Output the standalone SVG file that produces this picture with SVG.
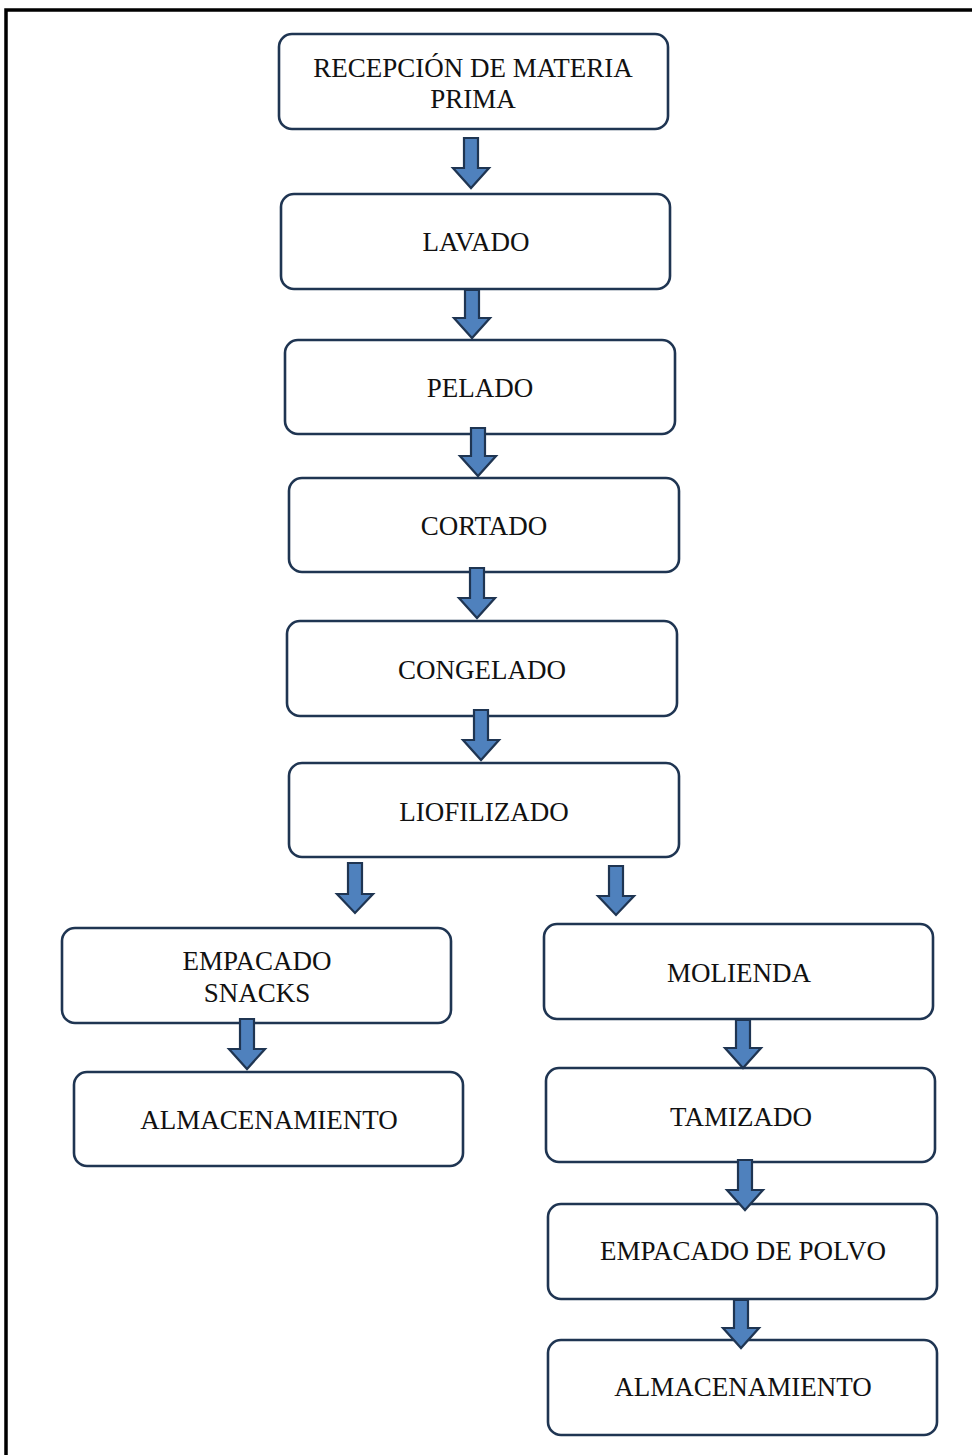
<svg xmlns="http://www.w3.org/2000/svg" width="972" height="1455" viewBox="0 0 972 1455">
  <style>
    .box { fill: #ffffff; stroke: #1f3552; stroke-width: 2.6; }
    .lbl { font-family: "Liberation Serif", "Times New Roman", serif; font-size: 27px; fill: #111111; text-anchor: middle; }
    .arrow { fill: #4f81bd; stroke: #1f3552; stroke-width: 2.2; stroke-linejoin: miter; }
    .frame { stroke: #000000; stroke-width: 3.5; fill: none; }
  </style>
  <rect width="972" height="1455" fill="#ffffff"/>

  <!-- page frame (top and left edges) -->
  <path class="frame" d="M6,1455 V10 H972"/>

  <g id="recepcion">
    <rect class="box" x="279" y="34" width="389" height="95" rx="13"/>
    <text class="lbl" x="473" y="77">RECEPCIÓN DE MATERIA</text>
    <text class="lbl" x="473" y="108">PRIMA</text>
  </g>
  <g id="lavado">
    <rect class="box" x="281" y="194" width="389" height="95" rx="13"/>
    <text class="lbl" x="476" y="251">LAVADO</text>
  </g>
  <g id="pelado">
    <rect class="box" x="285" y="340" width="390" height="94" rx="13"/>
    <text class="lbl" x="480" y="397">PELADO</text>
  </g>
  <g id="cortado">
    <rect class="box" x="289" y="478" width="390" height="94" rx="13"/>
    <text class="lbl" x="484" y="535">CORTADO</text>
  </g>
  <g id="congelado">
    <rect class="box" x="287" y="621" width="390" height="95" rx="13"/>
    <text class="lbl" x="482" y="679">CONGELADO</text>
  </g>
  <g id="liofilizado">
    <rect class="box" x="289" y="763" width="390" height="94" rx="13"/>
    <text class="lbl" x="484" y="821">LIOFILIZADO</text>
  </g>
  <g id="empacado-snacks">
    <rect class="box" x="62" y="928" width="389" height="95" rx="13"/>
    <text class="lbl" x="257" y="970">EMPACADO</text>
    <text class="lbl" x="257" y="1002">SNACKS</text>
  </g>
  <g id="almacenamiento-snacks">
    <rect class="box" x="74" y="1072" width="389" height="94" rx="13"/>
    <text class="lbl" x="269" y="1129">ALMACENAMIENTO</text>
  </g>
  <g id="molienda">
    <rect class="box" x="544" y="924" width="389" height="95" rx="13"/>
    <text class="lbl" x="739" y="982">MOLIENDA</text>
  </g>
  <g id="tamizado">
    <rect class="box" x="546" y="1068" width="389" height="94" rx="13"/>
    <text class="lbl" x="741" y="1126">TAMIZADO</text>
  </g>
  <g id="empacado-polvo">
    <rect class="box" x="548" y="1204" width="389" height="95" rx="13"/>
    <text class="lbl" x="743" y="1260">EMPACADO DE POLVO</text>
  </g>
  <g id="almacenamiento-polvo">
    <rect class="box" x="548" y="1340" width="389" height="95" rx="13"/>
    <text class="lbl" x="743" y="1396">ALMACENAMIENTO</text>
  </g>

  <!-- connectors: block arrows, drawn over the box outlines -->
  <g id="connectors">
    <path class="arrow" d="M464,138 H478 V168 H489 L471,188 L453,168 H464 Z"/>
    <path class="arrow" d="M465,290 H479 V318 H490 L472,338 L454,318 H465 Z"/>
    <path class="arrow" d="M471,428 H485 V456 H496 L478,476 L460,456 H471 Z"/>
    <path class="arrow" d="M470,568 H484 V598 H495 L477,618 L459,598 H470 Z"/>
    <path class="arrow" d="M474,710 H488 V740 H499 L481,760 L463,740 H474 Z"/>
    <path class="arrow" d="M348,863 H362 V894 H373 L355,913 L337,894 H348 Z"/>
    <path class="arrow" d="M609,866 H623 V896 H634 L616,915 L598,896 H609 Z"/>
    <path class="arrow" d="M240,1019 H254 V1049 H265 L247,1069 L229,1049 H240 Z"/>
    <path class="arrow" d="M736,1020 H750 V1048 H761 L743,1068 L725,1048 H736 Z"/>
    <path class="arrow" d="M738,1160 H752 V1190 H763 L745,1210 L727,1190 H738 Z"/>
    <path class="arrow" d="M734,1300 H748 V1328 H759 L741,1348 L723,1328 H734 Z"/>
  </g>
</svg>
